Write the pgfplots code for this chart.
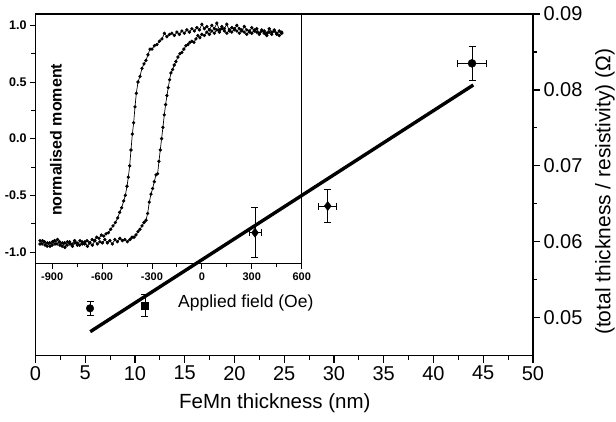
\documentclass[border=0pt]{standalone}
\usepackage{pgfplots}
\pgfplotsset{compat=1.18}
\usepackage{fontspec}
\setmainfont{Liberation Sans}
\begin{document}
\begin{tikzpicture}[x=1pt,y=1pt]
\useasboundingbox (0,0) rectangle (616,422);
\begin{axis}[
  at={(35.5pt,66.3pt)}, anchor=south west,
  scale only axis, width=497.5pt, height=341.7pt,
  xmin=0, xmax=50, ymin=0.045, ymax=0.09,
  xtick={0,5,...,50}, ytick={0.05,0.06,0.07,0.08,0.09},
  minor x tick num=1, minor y tick num=1,
  xtick pos=bottom, ytick pos=right, yticklabel pos=right,
  tick align=outside, major tick length=7pt, minor tick length=4pt,
  axis line style={line width=1.3pt},
  every tick/.style={line width=1.2pt, black},
  scaled y ticks=false,
  /pgf/number format/assume math mode=true,
  tick label style={font=\fontsize{20}{22}\selectfont},
  yticklabel style={/pgf/number format/.cd, fixed, fixed zerofill, precision=2},
  xlabel={FeMn thickness (nm)},
  xlabel style={at={(axis description cs:0.481,-0.138)}, anchor=center, font=\fontsize{20.5}{22}\selectfont},
  ylabel={(total thickness / resistivity) (Ω)},
  ylabel style={at={(axis description cs:1.1447,0.48)}, anchor=center, font=\fontsize{21}{22}\selectfont},
]
\addplot[black, line width=3.4pt, no marks] coordinates {(5.5,0.04816) (44,0.08065)};
\addplot[black, only marks, mark=*, mark size=3.8pt,
  error bars/.cd, y dir=both, y explicit, error bar style={line width=0.8pt},
  error mark options={rotate=90, line width=0.8pt, mark size=3.5pt}]
  coordinates {(5.48,0.05124) +- (0,0.00095)};
\addplot[black, only marks, mark=square*, mark size=3.5pt,
  error bars/.cd, y dir=both, y explicit, error bar style={line width=0.8pt},
  error mark options={rotate=90, line width=0.8pt, mark size=3.5pt}]
  coordinates {(11.0,0.05158) +- (0,0.00143)};
\addplot[black, only marks, mark=diamond*, mark size=4.6pt,
  error bars/.cd, y dir=both, y explicit, x dir=both, x explicit, error bar style={line width=0.8pt},
  error mark options={rotate=90, line width=0.8pt, mark size=3.5pt}]
  coordinates {(22.06,0.0612) +- (0.6,0.0033) (29.37,0.06471) +- (0.9,0.00215)};
\addplot[black, only marks, mark=*, mark size=4pt,
  error bars/.cd, y dir=both, y explicit, x dir=both, x explicit, error bar style={line width=0.8pt},
  error mark options={rotate=90, line width=0.8pt, mark size=3.5pt}]
  coordinates {(43.87,0.0835) +- (1.45,0.0022)};
\end{axis}
\begin{axis}[
  at={(35.5pt,158.7pt)}, anchor=south west,
  scale only axis, width=266.2pt, height=249.3pt,
  xmin=-1000, xmax=600, ymin=-1.1, ymax=1.1,
  xtick={-900,-600,-300,0,300,600}, ytick={-1,-0.5,0,0.5,1},
  minor x tick num=1, minor y tick num=1,
  xtick pos=bottom, ytick pos=left,
  tick align=outside, major tick length=5.5pt, minor tick length=4pt,
  axis line style={line width=1pt},
  every tick/.style={line width=0.9pt, black},
  /pgf/number format/assume math mode=true,
  xticklabel style={font=\bfseries\fontsize{11}{12}\selectfont},
  yticklabel style={font=\bfseries\fontsize{12.5}{14}\selectfont, /pgf/number format/.cd, fixed, fixed zerofill, precision=1},
  xlabel={Applied field (Oe)},
  xlabel style={at={(axis description cs:0.79,-0.16)}, anchor=center, font=\fontsize{17.5}{19}\selectfont},
  ylabel={normalised moment},
  ylabel style={at={(axis description cs:0.077,0.495)}, anchor=center, font=\bfseries\fontsize{16}{17}\selectfont},
]
\addplot[black, line width=0.7pt, mark=*, mark size=1.3pt] table {
x y
480 0.93
465 0.95
450 0.92
435 0.96
420 0.94
405 0.97
390 0.93
375 0.95
360 0.96
345 0.93
330 0.97
315 0.95
300 0.98
285 0.94
270 0.96
255 0.99
240 0.95
225 0.97
210 1.00
195 0.96
180 0.98
165 0.95
150 1.01
135 0.97
120 0.99
105 0.96
90 1.02
75 0.97
60 1.00
45 0.96
30 0.99
15 0.97
0 1.01
-15 0.96
-30 0.98
-45 0.95
-60 0.97
-75 0.94
-90 0.96
-105 0.93
-120 0.95
-135 0.92
-150 0.94
-165 0.91
-180 0.93
-195 0.92
-210 0.90
-225 0.93
-240 0.88
-255 0.86
-270 0.83
-285 0.82
-300 0.79
-312 0.79
-324 0.74
-336 0.69
-348 0.66
-360 0.62
-372 0.55
-384 0.50
-394 0.40
-402 0.28
-410 0.14
-418 0.04
-426 -0.10
-434 -0.24
-442 -0.34
-450 -0.42
-460 -0.50
-470 -0.55
-482 -0.61
-494 -0.65
-506 -0.70
-520 -0.74
-534 -0.77
-548 -0.80
-562 -0.83
-576 -0.84
-590 -0.86
-604 -0.85
-618 -0.88
-632 -0.87
-646 -0.90
-660 -0.89
-675 -0.92
-690 -0.90
-705 -0.93
-720 -0.91
-735 -0.94
-750 -0.92
-765 -0.90
-780 -0.93
-795 -0.91
-810 -0.94
-825 -0.92
-840 -0.95
-855 -0.91
-870 -0.93
-885 -0.90
-900 -0.94
-915 -0.92
-930 -0.95
-945 -0.91
-960 -0.93
-973 -0.90
};
\addplot[black, line width=0.7pt, mark=*, mark size=1.3pt] table {
x y
-973 -0.93
-958 -0.90
-943 -0.94
-928 -0.92
-913 -0.95
-898 -0.91
-883 -0.93
-868 -0.89
-853 -0.94
-838 -0.92
-823 -0.96
-808 -0.91
-793 -0.93
-778 -0.95
-763 -0.92
-748 -0.94
-733 -0.90
-718 -0.93
-703 -0.91
-688 -0.95
-673 -0.92
-658 -0.94
-643 -0.90
-628 -0.93
-613 -0.91
-598 -0.92
-583 -0.89
-568 -0.92
-553 -0.90
-538 -0.93
-523 -0.89
-508 -0.91
-493 -0.88
-478 -0.90
-463 -0.89
-448 -0.91
-432 -0.89
-420 -0.87
-408 -0.87
-396 -0.85
-384 -0.82
-372 -0.80
-360 -0.77
-348 -0.74
-336 -0.72
-326 -0.66
-316 -0.56
-306 -0.49
-296 -0.44
-286 -0.38
-276 -0.32
-266 -0.31
-258 -0.20
-250 -0.10
-242 0.00
-234 0.10
-226 0.21
-218 0.30
-210 0.38
-202 0.45
-194 0.52
-186 0.58
-176 0.61
-166 0.65
-156 0.68
-144 0.72
-132 0.75
-120 0.76
-108 0.79
-96 0.82
-84 0.83
-72 0.85
-60 0.86
-48 0.85
-36 0.88
-24 0.91
-12 0.89
0 0.92
15 0.91
30 0.94
45 0.92
60 0.95
75 0.93
90 0.96
105 0.94
120 0.97
135 0.95
150 0.93
165 0.96
180 0.94
195 0.97
210 0.95
225 0.93
240 0.96
255 0.94
270 0.92
285 0.95
300 0.93
315 0.96
330 0.94
345 0.92
360 0.95
375 0.93
390 0.91
405 0.94
420 0.92
435 0.95
450 0.93
465 0.91
480 0.94
};
\end{axis}
\end{tikzpicture}
\end{document}
